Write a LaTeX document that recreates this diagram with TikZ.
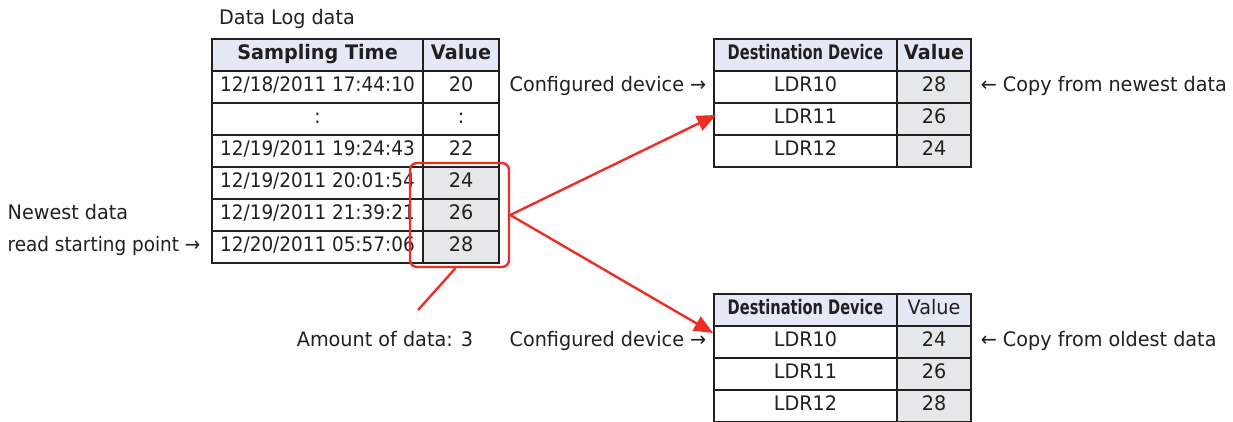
\documentclass[tikz,border=0pt]{standalone}
\usepackage{fontspec}
\setmainfont[FakeStretch=0.96]{DejaVu Sans}
\newfontfamily\datefont[FakeStretch=0.92]{DejaVu Sans}
\newfontfamily\narrowfont[FakeStretch=0.73]{DejaVu Sans}
\usetikzlibrary{arrows.meta, positioning}
\definecolor{hdrblue}{HTML}{E5E9F5}
\definecolor{cellgray}{HTML}{E6E7E8}
\definecolor{selred}{HTML}{EE2E24}
\definecolor{gridline}{HTML}{231F20}

\begin{document}
\begin{tikzpicture}[x=1pt, y=-1pt,
  lbl/.style={font=\fontsize{20}{24}\selectfont, text=gridline, inner sep=0pt, text height=14pt, text depth=5pt},
  cell/.style={lbl, draw=gridline, line width=1.1pt, minimum height=32pt},
  selbox/.style={draw=selred, line width=2.4pt, rounded corners=7pt, inner sep=0pt},
  redline/.style={draw=selred, line width=2.4pt},
  redarrow/.style={redline, -{Triangle[length=19pt, width=16pt]}}]
  \useasboundingbox (0,0) rectangle (1233,421);

  \node[lbl, anchor=west] (loglabel) at (219,20) {Data Log data};
  \node[cell, fill=hdrblue, minimum width=211pt] (log-0-t) at (317.5,55) {\bfseries Sampling Time};
  \node[cell, fill=hdrblue, minimum width=76pt] (log-0-v) at (461,55) {\bfseries Value};
  \foreach \t/\v/\f [count=\i] in {{12/18/2011 17:44:10}/20/white, {:}/{:}/white,
      {12/19/2011 19:24:43}/22/white, {12/19/2011 20:01:54}/24/cellgray,
      {12/19/2011 21:39:21}/26/cellgray, {12/20/2011 05:57:06}/28/cellgray}{
    \node[cell, minimum width=211pt] (log-\i-t) at (317.5,{55+32*\i}) {\datefont\t};
    \node[cell, fill=\f, minimum width=76pt] (log-\i-v) at (461,{55+32*\i}) {\v};
  }
  \node[lbl, anchor=west] (start) at ([xshift=-204pt]log-6-t.west) {\datefont read starting point →};
  \node[lbl, anchor=west] (newest) at (start.west |- log-5-t) {Newest data};

  \node[cell, fill=hdrblue, minimum width=183pt] (dstA-0-d) at (805.5,55) {\narrowfont\bfseries Destination Device};
  \node[cell, fill=hdrblue, minimum width=74pt] (dstA-0-v) at (934,55) {\bfseries Value};
  \foreach \d/\v [count=\i] in {LDR10/28, LDR11/26, LDR12/24}{
    \node[cell, minimum width=183pt] (dstA-\i-d) at (805.5,{55+32*\i}) {\d};
    \node[cell, fill=cellgray, minimum width=74pt] (dstA-\i-v) at (934,{55+32*\i}) {\v};
  }
  \node[lbl, left=7pt of dstA-1-d] (cfgA) {Configured device →};
  \node[lbl, right=9pt of dstA-1-v] (copyA) {← Copy from newest data};

  \node[cell, fill=hdrblue, minimum width=183pt] (dstB-0-d) at (805.5,310) {\narrowfont\bfseries Destination Device};
  \node[cell, fill=hdrblue, minimum width=74pt] (dstB-0-v) at (934,310) {Value};
  \foreach \d/\v [count=\i] in {LDR10/24, LDR11/26, LDR12/28}{
    \node[cell, minimum width=183pt] (dstB-\i-d) at (805.5,{310+32*\i}) {\d};
    \node[cell, fill=cellgray, minimum width=74pt] (dstB-\i-v) at (934,{310+32*\i}) {\v};
  }
  \node[lbl, left=7pt of dstB-1-d] (cfgB) {Configured device →};
  \node[lbl, right=9pt of dstB-1-v] (copyB) {← Copy from oldest data};
  \node[lbl] (amount) at (385,342) {Amount of data: 3};

  \node[selbox, minimum width=99pt, minimum height=104pt] (sel) at (459.5,215) {};
  \coordinate (tipA) at (716,115);
  \coordinate (tipB) at (713,333);
  \coordinate (amtend) at (418,310);
  \draw[redarrow] (sel.east) -- (tipA);
  \draw[redarrow] (sel.east) -- (tipB);
  \draw[redline] ([xshift=-4pt]sel.south) -- (amtend);
\end{tikzpicture}
\end{document}
